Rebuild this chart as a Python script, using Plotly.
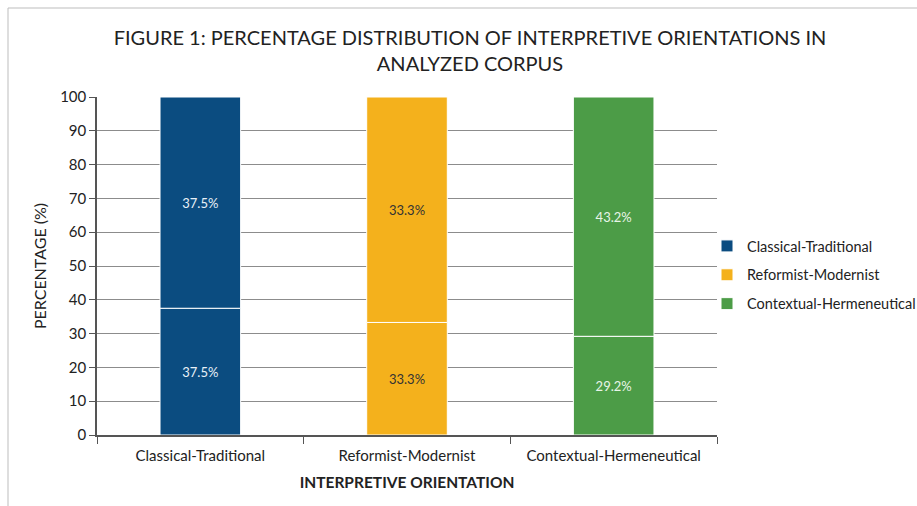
import plotly.graph_objects as go

categories = ["Classical-Traditional", "Reformist-Modernist", "Contextual-Hermeneutical"]
lower_values = [37.5, 33.3, 29.2]
upper_values = [62.5, 66.7, 70.8]
lower_labels = ["37.5%", "33.3%", "29.2%"]
upper_labels = ["37.5%", "33.3%", "43.2%"]
colors = ["#0b4c80", "#f4b11c", "#4c9c47"]
text_colors = ["#e8f0f8", "#333333", "#e8f5e8"]
y_ticks = [0, 10, 20, 30, 40, 50, 60, 70, 80, 90, 100]

FONT = "Lato, 'Open Sans', sans-serif"
W, H = 917, 506
ML, MR, MT, MB = 97, 200, 97, 71
PW, PH = W - ML - MR, H - MT - MB

fig = go.Figure()
for i, cat in enumerate(categories):
    fig.add_trace(go.Bar(
        name=cat,
        legendgroup=cat,
        x=[cat, cat],
        y=[lower_values[i], upper_values[i]],
        base=[0, lower_values[i]],
        text=[lower_labels[i], upper_labels[i]],
        textposition="inside",
        insidetextanchor="middle",
        textangle=0,
        textfont=dict(family=FONT, size=13, color=text_colors[i]),
        marker=dict(color=colors[i], line=dict(color="#ffffff", width=1)),
        width=0.39,
        hoverinfo="skip",
    ))

fig.update_layout(
    width=W, height=H,
    margin=dict(l=ML, r=MR, t=MT, b=MB, autoexpand=False),
    paper_bgcolor="white", plot_bgcolor="white",
    barmode="overlay",
    font=dict(family=FONT, color="#222222"),
    title=dict(
        text="FIGURE 1: PERCENTAGE DISTRIBUTION OF INTERPRETIVE ORIENTATIONS IN<br>ANALYZED CORPUS",
        x=470 / W, xanchor="center", y=1 - 45 / H, yanchor="top",
        font=dict(family=FONT, size=20, color="#222222"),
    ),
    legend=dict(
        x=(707 - ML) / PW, xanchor="left", y=(H - MB - 230) / PH, yanchor="top",
        font=dict(family=FONT, size=14.5, color="#222222"),
        itemwidth=30, tracegroupgap=7, bgcolor="rgba(0,0,0,0)",
        itemclick=False,
    ),
    showlegend=True,
)

fig.update_xaxes(
    type="category",
    categoryorder="array", categoryarray=categories,
    showline=True, linecolor="#555555", linewidth=1.5,
    ticks="outside", tickson="boundaries", ticklen=7, tickcolor="#555555",
    ticklabelstandoff=6,
    tickfont=dict(family=FONT, size=15, color="#222222"),
    title=dict(text="<b>INTERPRETIVE ORIENTATION</b>", font=dict(family=FONT, size=15.5, color="#222222"), standoff=14),
    showgrid=False,
)
fig.update_yaxes(
    range=[0, 100], tickvals=y_ticks,
    showline=True, linecolor="#555555", linewidth=1.5,
    ticks="outside", ticklen=6, tickcolor="#555555",
    showgrid=True, gridcolor="#8c8c8c", gridwidth=1,
    tickfont=dict(family=FONT, size=15, color="#222222"),
    title=dict(text="PERCENTAGE (%)", font=dict(family=FONT, size=16, color="#222222"), standoff=10),
    zeroline=False,
)

# outer frame of the figure image
fig.add_shape(type="rect", xref="paper", yref="paper",
              x0=(8 - ML) / PW, x1=(W + 5 - ML) / PW,
              y0=(H - MB - (H + 5)) / PH, y1=(H - MB - 8) / PH,
              line=dict(color="#bdbdbd", width=1), layer="below")

fig.write_html("out.html")
